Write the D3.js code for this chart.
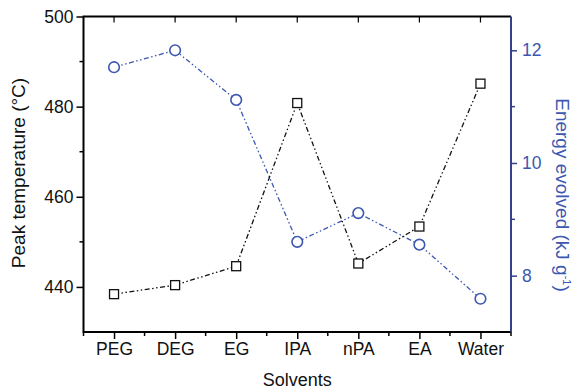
<!DOCTYPE html>
<html>
<head>
<meta charset="utf-8">
<script src="https://cdn.jsdelivr.net/npm/d3@7"></script>
<style>
  body { margin: 0; background: #fff; }
  svg text { font-family: "Liberation Sans", Arial, sans-serif; }
</style>
</head>
<body>
<div id="chart"></div>
<script>
// data
var solvents = ["PEG", "DEG", "EG", "IPA", "nPA", "EA", "Water"];
var peakTemp = [438.4, 440.4, 444.6, 480.8, 445.2, 453.4, 485.1];
var energy = [11.70, 12.00, 11.12, 8.60, 9.11, 8.55, 7.59];
var tempTicks = [440, 460, 480, 500];
var tempMinor = [450, 470, 490];
var energyTicks = [8, 10, 12];
var energyMinor = [9, 11];

var width = 573, height = 389;
var margin = {top: 16.5, right: 62, bottom: 57, left: 83.5};
var blue = "#3c57b0", navy = "#35428a";
var tickFont = 17.5, titleFont = 19;

var svg = d3.select("#chart")
  .append("svg")
    .attr("width", width)
    .attr("height", height);

var x = d3.scalePoint()
  .domain(solvents)
  .range([margin.left, width - margin.right])
  .padding(0.5);
var step = x.step();

var yT = d3.scaleLinear().domain([430, 500]).range([height - margin.bottom, margin.top]);
var yE = d3.scaleLinear().domain([7, 12.6]).range([height - margin.bottom, margin.top]);

var x0 = margin.left, x1 = width - margin.right;
var y0 = height - margin.bottom, y1 = margin.top;

// minor positions between categories
var between = d3.range(solvents.length + 1).map(function(i){ return x0 + i*step; });

// bottom axis
svg.append("g")
  .attr("transform", "translate(0," + y0 + ")")
  .call(d3.axisBottom(x).tickSize(7).tickPadding(4))
  .call(function(g){
    g.select(".domain").remove();
    g.selectAll("line").attr("stroke", "#000").attr("stroke-width", 1.5);
    g.selectAll("text").attr("font-size", tickFont).attr("fill", "#111");
  });
svg.append("g").selectAll("line").data(between).join("line")
  .attr("x1", function(d){ return d; }).attr("x2", function(d){ return d; })
  .attr("y1", y0).attr("y2", y0 + 4)
  .attr("stroke", "#000").attr("stroke-width", 1.5);

// top ticks (inward)
svg.append("g").selectAll("line").data(solvents).join("line")
  .attr("x1", function(d){ return x(d); }).attr("x2", function(d){ return x(d); })
  .attr("y1", y1).attr("y2", y1 + 6)
  .attr("stroke", "#000").attr("stroke-width", 1.2);

// left axis
svg.append("g")
  .attr("transform", "translate(" + x0 + ",0)")
  .call(d3.axisLeft(yT).tickValues(tempTicks).tickSize(7).tickPadding(3))
  .call(function(g){
    g.select(".domain").remove();
    g.selectAll("line").attr("stroke", "#000").attr("stroke-width", 1.5);
    g.selectAll("text").attr("font-size", tickFont).attr("fill", "#111");
  });
svg.append("g").selectAll("line").data(tempMinor).join("line")
  .attr("x1", x0 - 4).attr("x2", x0)
  .attr("y1", function(d){ return yT(d); }).attr("y2", function(d){ return yT(d); })
  .attr("stroke", "#000").attr("stroke-width", 1.5);

// right axis
svg.append("g")
  .attr("transform", "translate(" + x1 + ",0)")
  .call(d3.axisRight(yE).tickValues(energyTicks).tickFormat(d3.format("d")).tickSize(6).tickPadding(5))
  .call(function(g){
    g.select(".domain").remove();
    g.selectAll("line").attr("stroke", navy).attr("stroke-width", 1.5);
    g.selectAll("text").attr("font-size", tickFont).attr("fill", blue);
  });
svg.append("g").selectAll("line").data(energyMinor).join("line")
  .attr("x1", x1).attr("x2", x1 + 4)
  .attr("y1", function(d){ return yE(d); }).attr("y2", function(d){ return yE(d); })
  .attr("stroke", navy).attr("stroke-width", 1.5);

// frame
svg.append("path")
  .attr("d", "M" + x1 + "," + y1 + "H" + x0 + "V" + y0 + "H" + x1)
  .attr("fill", "none").attr("stroke", "#000").attr("stroke-width", 2);
svg.append("line")
  .attr("x1", x1).attr("x2", x1).attr("y1", y1).attr("y2", y0)
  .attr("stroke", navy).attr("stroke-width", 2);

// lines
var dashes = "5,2.5,1.5,2.5,1.5,2.5";
var lineT = d3.line().x(function(d, i){ return x(solvents[i]); }).y(function(d){ return yT(d); });
var lineE = d3.line().x(function(d, i){ return x(solvents[i]); }).y(function(d){ return yE(d); });

svg.append("path").datum(energy)
  .attr("d", lineE).attr("fill", "none")
  .attr("stroke", blue).attr("stroke-width", 1.3).attr("stroke-dasharray", dashes);
svg.append("path").datum(peakTemp)
  .attr("d", lineT).attr("fill", "none")
  .attr("stroke", "#111").attr("stroke-width", 1.3).attr("stroke-dasharray", dashes);

// markers
svg.append("g").selectAll("rect").data(peakTemp).join("rect")
  .attr("x", function(d, i){ return x(solvents[i]) - 4.5; })
  .attr("y", function(d){ return yT(d) - 4.5; })
  .attr("width", 9).attr("height", 9)
  .attr("fill", "#fff").attr("stroke", "#111").attr("stroke-width", 1.3);

svg.append("g").selectAll("circle").data(energy).join("circle")
  .attr("cx", function(d, i){ return x(solvents[i]); })
  .attr("cy", function(d){ return yE(d); })
  .attr("r", 5.3)
  .attr("fill", "#fff").attr("stroke", blue).attr("stroke-width", 1.6);

// axis titles
svg.append("text")
  .attr("x", (x0 + x1) / 2).attr("y", 386)
  .attr("text-anchor", "middle").attr("font-size", 18).attr("fill", "#111")
  .text("Solvents");

svg.append("text")
  .attr("transform", "translate(25,173) rotate(-90)")
  .attr("text-anchor", "middle").attr("font-size", titleFont).attr("fill", "#111")
  .text("Peak temperature (°C)");

var rt = svg.append("text")
  .attr("transform", "translate(556,195) rotate(90)")
  .attr("text-anchor", "middle").attr("font-size", titleFont).attr("fill", blue);
rt.append("tspan").text("Energy evolved (kJ g");
rt.append("tspan").attr("dy", -7).attr("font-size", 11).text("-1");
rt.append("tspan").attr("dy", 7).text(")");
</script>
</body>
</html>
